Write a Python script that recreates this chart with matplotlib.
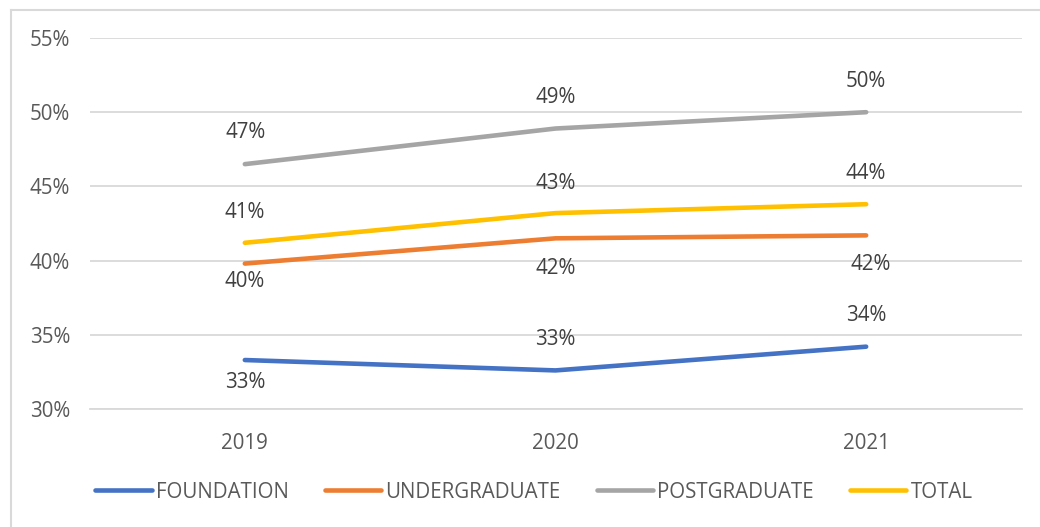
import math
import matplotlib
matplotlib.use("Agg")
import matplotlib.pyplot as plt
from matplotlib.lines import Line2D
from matplotlib.ticker import FuncFormatter

years = ["2019", "2020", "2021"]
foundation = [33.3, 32.6, 34.2]
undergraduate = [39.8, 41.5, 41.7]
postgraduate = [46.5, 48.9, 50.0]
total = [41.2, 43.2, 43.8]
series_names = ["FOUNDATION", "UNDERGRADUATE", "POSTGRADUATE", "TOTAL"]
y_ticks = [30, 35, 40, 45, 50, 55]

colors = ["#4472C4", "#ED7D31", "#A5A5A5", "#FFC000"]
# label offsets in pixels (dx, dy), dy positive = up
label_offsets = [
    [(0, -22), (0, 31), (0, 31)],
    [(0, -18), (0, -30), (5, -29)],
    [(1, 32), (0, 31), (0, 31)],
    [(0, 30), (0, 30), (0, 31)],
]


def pct(v):
    return f"{math.floor(v + 0.5)}%"


plt.rcParams['font.family'] = ['Open Sans', 'DejaVu Sans']
W, H = 1040, 527
fig = plt.figure(figsize=(W / 100, H / 100), dpi=100)
ax = fig.add_axes([89.5 / W, 1 - 409 / H, (1021.5 - 89.5) / W, (409 - 38) / H])

all_series = [foundation, undergraduate, postgraduate, total]
x = list(range(len(years)))
for vals, c, name, offs in zip(all_series, colors, series_names, label_offsets):
    ax.plot(x, vals, color=c, lw=3.3, solid_capstyle='round', solid_joinstyle='round', label=name, zorder=3)
    for xi, v, (dx, dy) in zip(x, vals, offs):
        ax.annotate(pct(v), (xi, v), xytext=(dx, dy), textcoords='offset pixels',
                    ha='center', va='center', fontsize=14.8, color='#404040', zorder=4)

ax.set_xlim(-0.5, 2.5)
ax.set_ylim(30, 55)
ax.set_yticks(y_ticks)
ax.yaxis.set_major_formatter(FuncFormatter(lambda v, p: f"{v:.0f}%"))
ax.set_xticks(x)
ax.set_xticklabels(years)
ax.grid(axis='y', color='#D9D9D9', lw=1.3)
ax.set_axisbelow(True)
for s in ['top', 'right', 'left']:
    ax.spines[s].set_visible(False)
ax.spines['bottom'].set_color('#D9D9D9')
ax.spines['bottom'].set_linewidth(1.3)
ax.tick_params(axis='both', length=0, labelsize=14.8, labelcolor='#595959')
ax.tick_params(axis='y', pad=14)
ax.tick_params(axis='x', pad=17)

leg = fig.legend(loc='center', bbox_to_anchor=(534 / W, 1 - 492 / H), ncol=4, frameon=False,
                 fontsize=14.8, handlelength=2.75, handletextpad=0.2, columnspacing=1.75,
                 labelcolor='#595959')
for h in leg.legend_handles:
    h.set_solid_capstyle('round')

fig.add_artist(Line2D([11 / W, 1], [1 - 9.5 / H, 1 - 9.5 / H], transform=fig.transFigure, color='#D9D9D9', lw=1.5))
fig.add_artist(Line2D([11 / W, 11 / W], [0, 1 - 9.5 / H], transform=fig.transFigure, color='#D9D9D9', lw=1.5))

fig.savefig("out.png", dpi=100)
